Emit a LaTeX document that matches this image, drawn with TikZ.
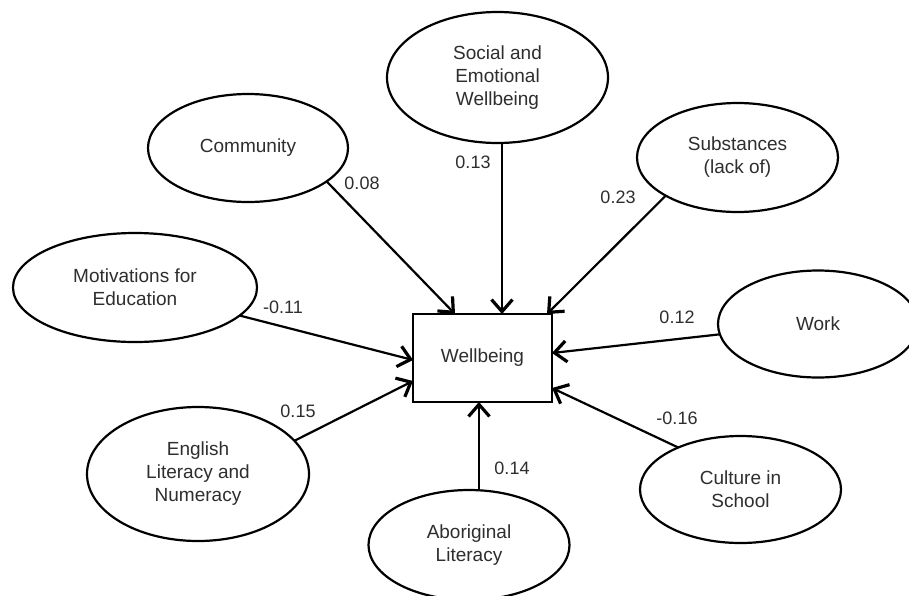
\documentclass[tikz,border=0pt]{standalone}
\usepackage{fontspec}
\setmainfont{Liberation Sans}
\usetikzlibrary{shapes.geometric,arrows.meta}
\definecolor{txt}{HTML}{2E2E2E}
\begin{document}
\begin{tikzpicture}[x=1pt,y=-1pt,
  oval/.style={ellipse,draw=black,line width=2.2pt,inner sep=0pt,outer sep=0pt,
    text=txt,font=\fontsize{19}{23}\selectfont,align=center},
  boxnode/.style={rectangle,draw=black,line width=2.2pt,inner sep=0pt,outer sep=0pt,
    minimum width=139pt,minimum height=88pt,text=txt,font=\fontsize{19}{23}\selectfont},
  coef/.style={text=txt,font=\fontsize{18}{21}\selectfont,inner sep=0pt},
  arr/.style={line width=2.2pt,-{Straight Barb[length=12pt,width=21pt,line width=3.2pt]}}]
\useasboundingbox (0,0) rectangle (909,595);
\clip (0,0) rectangle (909,595);
\fill[white] (0,0) rectangle (909,595);

\node[boxnode] (box) at (482.5,358) {Wellbeing};

\node[oval,minimum width=221pt,minimum height=131pt] (soc) at (497.5,77.5) {Social and\\Emotional\\Wellbeing};
\node[oval,minimum width=200pt,minimum height=108pt] (comm) at (248,148) {Community};
\node[oval,minimum width=201pt,minimum height=109pt] (subs) at (737.5,157.5) {Substances\\(lack of)};
\node[oval,minimum width=244pt,minimum height=109pt] (mot) at (135,287.5) {Motivations for\\Education};
\node[oval,minimum width=200pt,minimum height=107pt] (work) at (818,324) {Work};
\node[oval,minimum width=222pt,minimum height=134pt] (eng) at (198,474) {English\\Literacy and\\Numeracy};
\node[oval,minimum width=201pt,minimum height=110pt] (abo) at (469,545) {Aboriginal\\Literacy};
\node[oval,minimum width=201pt,minimum height=107pt] (cult) at (740.5,489.5) {Culture in\\School};

\draw[arr] (comm.-23.6) -- ([xshift=-27.5pt]box.north);
\draw[arr] ([xshift=4.5pt]soc.south) -- ([xshift=19.5pt]box.north);
\draw[arr] (subs.-152) -- ([xshift=64.5pt]box.north);
\draw[arr] (mot.-15.4) -- ([yshift=-2pt]box.west);
\draw[arr] (eng.19.8) -- ([yshift=-23pt]box.west);
\draw[arr] (work.-174.9) -- ([yshift=5pt]box.east);
\draw[arr] (cult.146.2) -- ([yshift=-30pt]box.east);
\draw[arr] ([xshift=10pt]abo.north) -- ([xshift=-3.5pt]box.south);

\node[coef] (l1) at (362,183) {0.08};
\node[coef] (l2) at (473,162) {0.13};
\node[coef] (l3) at (618,197) {0.23};
\node[coef] (l4) at (283,307) {-0.11};
\node[coef] (l5) at (298,411) {0.15};
\node[coef] (l6) at (677,317) {0.12};
\node[coef] (l7) at (677,418) {-0.16};
\node[coef] (l8) at (512,468) {0.14};
\end{tikzpicture}
\end{document}
